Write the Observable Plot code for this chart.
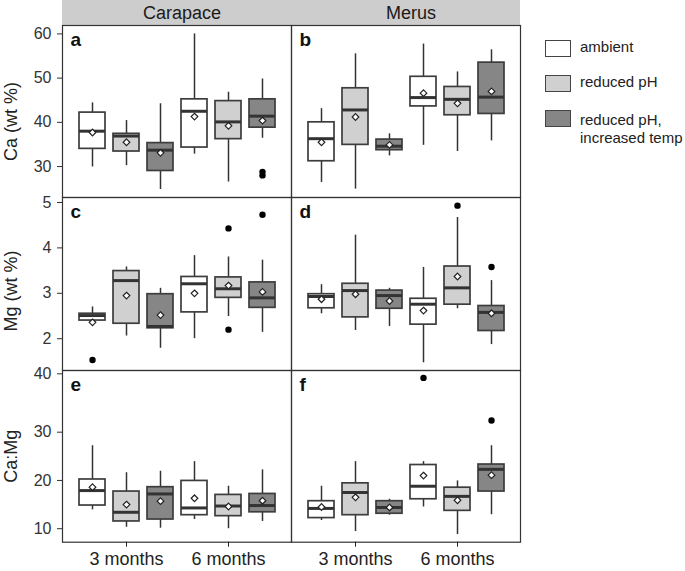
<!DOCTYPE html>
<html>
<head>
<meta charset="utf-8">
<script src="https://cdn.jsdelivr.net/npm/d3@7"></script>
<script src="https://cdn.jsdelivr.net/npm/@observablehq/plot@0.6"></script>
<style>
  html, body { margin: 0; padding: 0; background: #fff; }
  #chart { position: relative; width: 685px; height: 571px; font-family: "Liberation Sans", Arial, Helvetica, sans-serif; }
  #chart svg { position: absolute; left: 0; }
  .leg-box { position: absolute; left: 545px; width: 24px; height: 15px; border: 1.5px solid #444; }
  .leg-txt { position: absolute; left: 580px; font-size: 15px; line-height: 18px; color: #222; white-space: nowrap; }
</style>
</head>
<body>
<div id="chart"></div>
<script>
// ---- categories ----
const tissues = ["Carapace", "Merus"];
const times = ["3 months", "6 months"];
const treatments = ["ambient", "reduced pH", "reduced pH, increased temp"];
const treatmentFills = ["#ffffff", "#d0d0d0", "#868686"];
const rowTitles = ["Ca (wt %)", "Mg (wt %)", "Ca:Mg"];
const panelLetters = [["a", "b"], ["c", "d"], ["e", "f"]];

// Box order: Carapace [3m ambient, 3m reduced pH, 3m reduced pH+temp, 6m ambient, 6m reduced pH, 6m reduced pH+temp], then Merus (same order)
// ---- Ca (wt %) ----
const caLow  = [29.9, 30.2, 24.8, 32.8, 26.5, 36.4, 26.4, 24.9, 32.4, 34.8, 33.4, 35.8];
const caQ1   = [34.0, 33.4, 29.0, 34.3, 36.2, 38.8, 31.2, 34.9, 33.7, 43.6, 41.6, 41.9];
const caMed  = [38.0, 36.9, 33.7, 42.5, 40.1, 41.4, 36.3, 42.8, 34.6, 45.6, 45.2, 45.7];
const caQ3   = [42.2, 37.4, 35.3, 45.2, 44.8, 45.2, 40.0, 47.7, 36.1, 50.3, 48.0, 53.5];
const caHigh = [44.4, 40.4, 44.2, 60.0, 46.8, 49.8, 43.1, 55.5, 37.4, 57.7, 51.4, 56.4];
const caMean = [37.7, 35.5, 33.1, 41.3, 39.2, 40.4, 35.5, 41.2, 34.9, 46.6, 44.3, 47.0];
const caOutlierBox   = [5, 5];
const caOutlierValue = [28.8, 28.0];
const caTicks = [30, 40, 50, 60];

// ---- Mg (wt %) ----
const mgLow  = [2.40, 2.06, 1.79, 2.00, 2.49, 2.14, 2.55, 2.18, 2.27, 1.47, 2.66, 1.87];
const mgQ1   = [2.40, 2.33, 2.23, 2.58, 2.90, 2.68, 2.67, 2.47, 2.66, 2.31, 2.75, 2.17];
const mgMed  = [2.51, 3.28, 2.27, 3.21, 3.10, 2.90, 2.93, 3.06, 2.95, 2.76, 3.12, 2.58];
const mgQ3   = [2.55, 3.49, 2.98, 3.36, 3.35, 3.24, 2.98, 3.21, 3.06, 2.88, 3.59, 2.72];
const mgHigh = [2.70, 3.58, 3.11, 3.83, 3.80, 3.73, 3.19, 4.28, 3.11, 3.57, 4.67, 3.28];
const mgMean = [2.36, 2.95, 2.52, 3.00, 3.17, 3.03, 2.87, 2.98, 2.83, 2.62, 3.37, 2.56];
const mgOutlierBox   = [0, 4, 4, 5, 10, 11];
const mgOutlierValue = [1.53, 4.43, 2.20, 4.73, 4.93, 3.58];
const mgTicks = [2, 3, 4, 5];

// ---- Ca:Mg ----
const rLow  = [13.9, 10.3, 10.1, 11.9, 10.0, 11.5, 11.7, 9.4, 12.8, 14.5, 8.8, 12.9];
const rQ1   = [14.8, 11.5, 11.9, 12.8, 12.6, 13.4, 12.2, 12.8, 13.1, 16.1, 13.7, 17.7];
const rMed  = [17.9, 13.4, 17.2, 14.3, 14.7, 14.8, 14.2, 17.5, 14.4, 18.8, 16.7, 22.3];
const rQ3   = [20.2, 17.7, 18.6, 19.9, 17.0, 17.2, 15.7, 19.4, 15.7, 23.2, 18.5, 23.3];
const rHigh = [27.2, 21.6, 21.9, 23.9, 18.8, 22.2, 18.8, 23.9, 16.1, 23.9, 19.9, 27.2];
const rMean = [18.6, 15.0, 15.7, 16.3, 14.6, 15.8, 14.5, 16.5, 14.4, 21.0, 15.9, 21.1];
const rOutlierBox   = [9, 11];
const rOutlierValue = [39.3, 32.0];
const rTicks = [10, 20, 30, 40];

// ---- helpers ----
const keyOf = (time, treat) => time + "|" + treat;
const xDomain = times.flatMap(t => treatments.map(tr => keyOf(t, tr)));
function boxInfo(i) {
  const tissue = tissues[Math.floor(i / 6)];
  const time = times[Math.floor((i % 6) / 3)];
  const treatment = treatments[i % 3];
  return {tissue, time, treatment, key: keyOf(time, treatment)};
}
function boxTable(low, q1, med, q3, high, mean) {
  return low.map((_, i) => ({...boxInfo(i), lo: low[i], q1: q1[i], med: med[i], q3: q3[i], hi: high[i], mean: mean[i]}));
}
function outlierTable(idx, vals) {
  return idx.map((b, j) => ({...boxInfo(b), value: vals[j]}));
}

const FONT = '"Liberation Sans", Arial, Helvetica, sans-serif';
const W = 685, ML = 62, MR = 165;
const chart = document.getElementById("chart");

function row({boxes, outliers, yScale, ticks, title, letters, top, height, marginBottom, titleDy, showX}) {
  const marks = [
    Plot.ruleX(boxes, {x: "key", y1: "lo", y2: "hi", fx: "tissue", stroke: "#333", strokeWidth: 1.5}),
    Plot.barY(boxes, {x: "key", y1: "q1", y2: "q3", fx: "tissue", fill: "treatment", stroke: "#3d3d3d", strokeWidth: 1.7}),
    Plot.tickY(boxes, {x: "key", y: "med", fx: "tissue", stroke: "#333", strokeWidth: 3}),
    Plot.dot(boxes, {x: "key", y: "mean", fx: "tissue", symbol: "diamond2", r: 3, fill: "white", stroke: "#222", strokeWidth: 1.2}),
    Plot.dot(outliers, {x: "key", y: "value", fx: "tissue", r: 3.2, fill: "black", stroke: "none"}),
    Plot.text(tissues.map((t, i) => ({tissue: t, letter: letters[i]})), {
      fx: "tissue", text: "letter", frameAnchor: "top-left", textAnchor: "start", lineAnchor: "top",
      dx: 8, dy: 7, fontSize: 19, fontWeight: "bold", fill: "#111"
    }),
    Plot.text([{tissue: tissues[0], label: title}], {
      fx: "tissue", text: "label", frameAnchor: "left", textAnchor: "middle", lineAnchor: "middle",
      rotate: -90, dx: -51, dy: titleDy, fontSize: "18px", fill: "#222"
    }),
    Plot.axisY({ticks, tickFormat: d => String(d), tickSize: 5, tickPadding: 6, fontSize: 16, label: null, color: "#333"}),
    Plot.frame({stroke: "#333", strokeWidth: 1.2})
  ];
  if (showX) {
    marks.push(Plot.axisX({
      ticks: times.map(t => keyOf(t, treatments[1])),
      tickFormat: d => d.split("|")[0],
      tickSize: 5, tickPadding: 5, fontSize: 18, label: null, color: "#222"
    }));
  }
  const svg = Plot.plot({
    width: W, height, marginLeft: ML, marginRight: MR, marginTop: 0, marginBottom,
    style: {overflow: "visible", background: "transparent", fontFamily: FONT},
    fx: {domain: tissues, padding: 0, axis: null, label: null},
    x: {type: "band", domain: xDomain, paddingInner: 0.25, paddingOuter: 0.41, axis: null},
    y: yScale,
    color: {type: "ordinal", domain: treatments, range: treatmentFills},
    marks
  });
  svg.style.top = top + "px";
  chart.appendChild(svg);
}

// Facet strip header
const strip = Plot.plot({
  width: W, height: 25, marginLeft: ML, marginRight: MR, marginTop: 0, marginBottom: 0,
  style: {overflow: "visible", background: "transparent", fontFamily: FONT},
  x: {domain: tissues, padding: 0, axis: null},
  marks: [
    Plot.cell(tissues, {x: d => d, fill: "#cdcdcd"}),
    Plot.text(tissues, {x: d => d, text: d => d, fontSize: 18, fill: "#1a1a1a", dx: 5})
  ]
});
strip.style.top = "0px";
chart.appendChild(strip);

row({
  boxes: boxTable(caLow, caQ1, caMed, caQ3, caHigh, caMean),
  outliers: outlierTable(caOutlierBox, caOutlierValue),
  yScale: {domain: [23.0, 61.9], axis: null},
  ticks: caTicks, title: rowTitles[0], letters: panelLetters[0],
  top: 25, height: 172, marginBottom: 0, titleDy: 10, showX: false
});
row({
  boxes: boxTable(mgLow, mgQ1, mgMed, mgQ3, mgHigh, mgMean),
  outliers: outlierTable(mgOutlierBox, mgOutlierValue),
  yScale: {domain: [1.30, 5.11], axis: null},
  ticks: mgTicks, title: rowTitles[1], letters: panelLetters[1],
  top: 197, height: 173, marginBottom: 0, titleDy: 7, showX: false
});
row({
  boxes: boxTable(rLow, rQ1, rMed, rQ3, rHigh, rMean),
  outliers: outlierTable(rOutlierBox, rOutlierValue),
  // the original axis is stretched above 30 (piecewise linear)
  yScale: {type: "linear", domain: [7.2, 30, 40.57], range: [171.7, 61.7, 0], axis: null},
  ticks: rTicks, title: rowTitles[2], letters: panelLetters[2],
  top: 370, height: 201, marginBottom: 29.3, titleDy: 0, showX: true
});

// Legend
const legendTops = [40, 75, 110];
const labelTops = [38, 73, 111];
const legendLabels = [["ambient"], ["reduced pH"], ["reduced pH,", "increased temp"]];
treatments.forEach((t, i) => {
  const b = document.createElement("div");
  b.className = "leg-box";
  b.style.top = legendTops[i] + "px";
  b.style.background = treatmentFills[i];
  chart.appendChild(b);
  const l = document.createElement("div");
  l.className = "leg-txt";
  l.style.top = labelTops[i] + "px";
  l.innerHTML = legendLabels[i].join("<br>");
  chart.appendChild(l);
});
</script>
</body>
</html>
